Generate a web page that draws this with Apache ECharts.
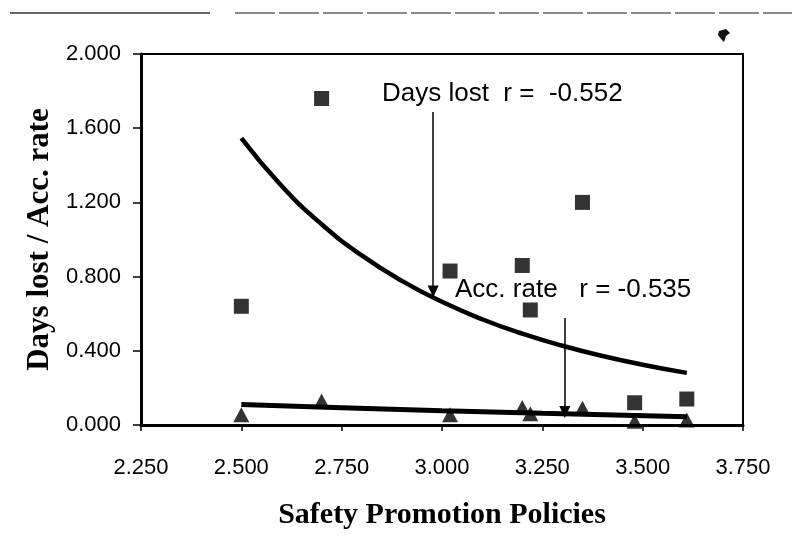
<!DOCTYPE html>
<html>
<head>
<meta charset="utf-8">
<script src="https://cdn.jsdelivr.net/npm/echarts@6/dist/echarts.min.js"></script>
<style>
  html, body { margin: 0; padding: 0; background: #fff; }
  #chart { width: 792px; height: 557px; }
</style>
</head>
<body>
<div id="chart"></div>
<script>
// Safety promotion policy scores (x) against days lost and accident rate
const policyScores = [2.50, 2.70, 3.02, 3.20, 3.22, 3.35, 3.48, 3.61];
const daysLost     = [0.64, 1.76, 0.83, 0.86, 0.62, 1.20, 0.12, 0.14];
const accRate      = [0.055, 0.13, 0.055, 0.095, 0.06, 0.09, 0.02, 0.027];

// Fitted trend curves
const daysTrendX = [2.50, 2.60, 2.70, 2.80, 2.90, 3.00, 3.10, 3.20, 3.30, 3.40, 3.50, 3.61];
const daysTrendY = [1.547, 1.290, 1.082, 0.914, 0.777, 0.664, 0.570, 0.492, 0.427, 0.372, 0.325, 0.281];
const accTrendX  = [2.50, 2.75, 3.00, 3.25, 3.61];
const accTrendY  = [0.11, 0.093, 0.077, 0.063, 0.045];

// Correlation annotations: label text and arrow [x, yFrom, yTo]
const daysNote = 'Days lost  r =  -0.552';
const accNote  = 'Acc. rate   r = -0.535';
const daysArrow = [2.978, 1.687, 0.72];
const accArrow  = [3.306, 0.577, 0.07];

const pairs = (xs, ys) => xs.map((x, i) => [x, ys[i]]);

const chart = echarts.init(document.getElementById('chart'), null, { renderer: 'canvas' });

const tickFont = { fontFamily: 'Liberation Sans, Arial, sans-serif', fontSize: 22, color: '#000' };

chart.setOption({
  animation: false,
  backgroundColor: '#fff',
  grid: {
    left: 141, top: 54, right: 49, bottom: 132,
    show: true, borderColor: '#000', borderWidth: 2, backgroundColor: 'transparent'
  },
  xAxis: {
    type: 'value', min: 2.25, max: 3.75, interval: 0.25,
    name: 'Safety Promotion Policies',
    nameLocation: 'middle', nameGap: 75,
    nameTextStyle: { fontFamily: 'Liberation Serif, Times New Roman, serif', fontWeight: 'bold', fontSize: 30, color: '#000' },
    axisLine: { show: true, onZero: false, lineStyle: { color: '#000', width: 3 } },
    axisTick: { show: true, inside: false, length: 6, lineStyle: { color: '#000', width: 1.5 } },
    axisLabel: Object.assign({ margin: 32, formatter: v => v.toFixed(3) }, tickFont),
    splitLine: { show: false }
  },
  yAxis: {
    type: 'value', min: 0, max: 2, interval: 0.4,
    name: 'Days lost / Acc. rate',
    nameLocation: 'middle', nameGap: 84, nameRotate: 90,
    nameTextStyle: { fontFamily: 'Liberation Serif, Times New Roman, serif', fontWeight: 'bold', fontSize: 31, color: '#000' },
    axisLine: { show: true, onZero: false, lineStyle: { color: '#000', width: 3 } },
    axisTick: { show: true, inside: false, length: 8, lineStyle: { color: '#000', width: 1.5 } },
    axisLabel: Object.assign({ margin: 20, formatter: v => v.toFixed(3) }, tickFont),
    splitLine: { show: false }
  },
  series: [
    {
      name: 'Days lost trend', type: 'line', smooth: 0.5, showSymbol: false, silent: true,
      data: pairs(daysTrendX, daysTrendY),
      lineStyle: { color: '#000', width: 4.5 }, z: 2
    },
    {
      name: 'Acc. rate trend', type: 'line', smooth: 0.5, showSymbol: false, silent: true,
      data: pairs(accTrendX, accTrendY),
      lineStyle: { color: '#000', width: 5 }, z: 2
    },
    {
      name: 'Days lost', type: 'scatter', symbol: 'rect', symbolSize: 15,
      data: pairs(policyScores, daysLost),
      itemStyle: { color: '#000' }, z: 3
    },
    {
      name: 'Acc. rate', type: 'scatter', symbol: 'triangle', symbolSize: [16, 15],
      data: pairs(policyScores, accRate),
      itemStyle: { color: '#000' }, z: 3
    },
    {
      name: 'Annotations', type: 'line', data: [], silent: true, z: 4,
      markLine: {
        silent: true, animation: false,
        symbol: ['none', 'triangle'], symbolSize: [11, 12],
        label: { show: false },
        lineStyle: { color: '#000', width: 1.5, type: 'solid' },
        emphasis: { disabled: true },
        data: [
          [{ coord: [daysArrow[0], daysArrow[1]] }, { coord: [daysArrow[0], daysArrow[2]] }],
          [{ coord: [accArrow[0], accArrow[1]] }, { coord: [accArrow[0], accArrow[2]] }]
        ]
      }
    }
  ],
  graphic: [
    {
      type: 'text', left: 382, top: 81, z: 10,
      style: { text: daysNote, fontFamily: 'Liberation Sans, Arial, sans-serif', fontSize: 26, fill: '#000' }
    },
    {
      type: 'text', left: 455, top: 277, z: 10,
      style: { text: accNote, fontFamily: 'Liberation Sans, Arial, sans-serif', fontSize: 26, fill: '#000' }
    },
    // page rule across the top
    { type: 'line', shape: { x1: 10, y1: 13, x2: 210, y2: 13 }, style: { stroke: '#333', lineWidth: 1.5 } },
    { type: 'line', shape: { x1: 235, y1: 13, x2: 792, y2: 13 }, style: { stroke: '#666', lineWidth: 1.5, lineDash: [40, 4] } },
    // small ink mark near the top right
    { type: 'polygon', shape: { points: [[719, 31], [726, 29], [730, 33], [726, 36], [724, 42], [721, 39], [718, 35]] }, style: { fill: '#111' } }
  ]
});
</script>
</body>
</html>
